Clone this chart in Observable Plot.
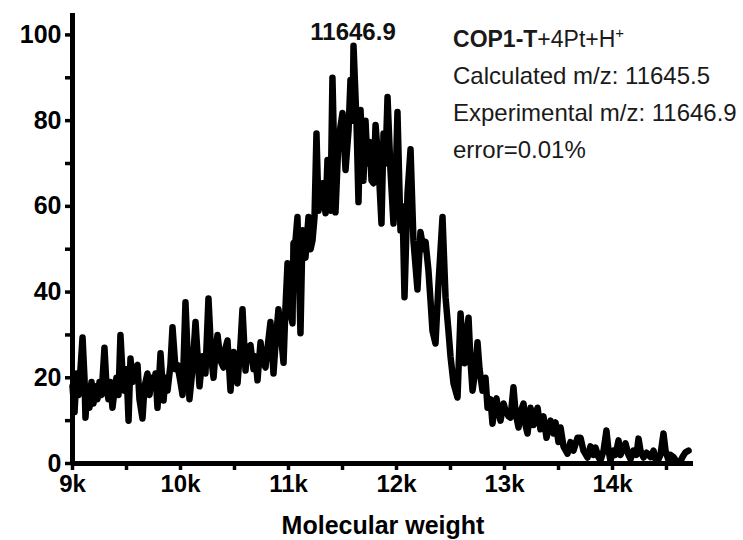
<!DOCTYPE html>
<html>
<head>
<meta charset="utf-8">
<script src="https://cdn.jsdelivr.net/npm/d3@7"></script>
<script src="https://cdn.jsdelivr.net/npm/@observablehq/plot@0.6"></script>
<style>
  html, body { margin: 0; padding: 0; background: #fff; }
  #chart { width: 743px; height: 540px; }
</style>
</head>
<body>
<div id="chart"></div>
<script>
// Molecular weight (Da)
const mass = [
  9000, 9019, 9037, 9056, 9074, 9093, 9111, 9120, 9139, 9157, 9176, 9194, 9213, 9231, 9250, 9269,
  9296, 9315, 9333, 9352, 9370, 9389, 9407, 9426, 9444, 9463, 9481, 9500, 9519, 9537, 9556, 9574,
  9602, 9620, 9648, 9667, 9694, 9713, 9731, 9750, 9769, 9787, 9815, 9843, 9861, 9880, 9907, 9926,
  9954, 9972, 10000, 10019, 10046, 10083, 10111, 10139, 10176, 10204, 10231, 10259, 10287, 10306, 10324, 10343,
  10370, 10398, 10417, 10435, 10463, 10491, 10509, 10528, 10556, 10574, 10602, 10620, 10648, 10676, 10694, 10713,
  10741, 10759, 10787, 10806, 10833, 10861, 10880, 10907, 10954, 10972, 10991, 11019, 11037, 11046, 11065, 11083,
  11111, 11130, 11157, 11185, 11204, 11222, 11241, 11259, 11278, 11296, 11315, 11343, 11361, 11389, 11407, 11435,
  11463, 11500, 11528, 11556, 11574, 11593, 11602, 11630, 11648, 11667, 11694, 11713, 11731, 11750, 11769, 11787,
  11806, 11833, 11861, 11880, 11898, 11917, 11944, 11972, 11991, 12009, 12037, 12056, 12074, 12102, 12130, 12157,
  12194, 12222, 12250, 12269, 12296, 12315, 12333, 12361, 12389, 12426, 12454, 12481, 12500, 12528, 12565, 12593,
  12611, 12630, 12648, 12667, 12685, 12704, 12731, 12750, 12769, 12796, 12824, 12843, 12870, 12889, 12907, 12926,
  12944, 12963, 12991, 13009, 13037, 13056, 13083, 13102, 13130, 13148, 13176, 13194, 13213, 13241, 13269, 13306,
  13333, 13361, 13389, 13426, 13454, 13472, 13500, 13519, 13546, 13583, 13611, 13639, 13676, 13704, 13731, 13769,
  13796, 13824, 13843, 13870, 13889, 13917, 13944, 13963, 13981, 14009, 14028, 14056, 14074, 14093, 14120, 14148,
  14167, 14194, 14222, 14241, 14259, 14287, 14315, 14352, 14380, 14398, 14417, 14444, 14472, 14491, 14519, 14537,
  14565, 14593, 14630, 14648, 14676, 14704
];
// Relative intensity (%)
const intensity = [
  18, 12, 21, 16, 22, 29.4, 20, 10.7, 18, 13, 19, 14, 18, 15, 19, 16,
  27, 18, 15, 19, 13, 17, 20, 16, 30, 21, 17, 22, 10, 24.5, 19, 22,
  23, 15, 10.5, 18, 21, 16, 20, 18, 21, 13, 25.7, 14.7, 20, 17, 23, 31.8,
  22, 23, 19, 16, 37.6, 15, 22, 33, 18, 25, 21, 38.5, 24, 20, 26, 30,
  24, 22.4, 27, 28.7, 17, 26, 21, 18.7, 28, 36, 21.7, 27, 27.6, 22, 25, 19.4,
  28.3, 24, 22.4, 27, 33, 21, 28, 36, 23.5, 36.4, 46.7, 35, 32.7, 51.4, 52, 57.5,
  30.4, 54.4, 48, 57.5, 50, 52, 57.5, 77, 59, 62, 65.4, 58.4, 70.8, 59, 90, 58.6,
  75.5, 81.8, 68.5, 77.8, 89.5, 80, 97.5, 79.4, 61, 82.5, 66, 80, 70, 75, 66, 65.4,
  79, 70, 56, 77, 70, 85.5, 68.5, 56, 65, 82, 54.4, 60, 38.8, 63, 73.3, 52,
  40.6, 54, 50, 51.7, 45, 38, 31, 28, 42, 57.5, 38.8, 31, 25, 18.7, 15.4, 35,
  28, 23.4, 30, 34, 24, 17, 22, 28.3, 22, 17, 20, 13, 15, 9.3, 13, 15.2,
  12, 10, 14, 12.4, 11, 10.7, 17.8, 12, 8.4, 12, 14, 9, 7, 13, 9, 13,
  8, 11, 6, 10, 7, 9.6, 5, 8.4, 4, 2.3, 5, 3, 6, 6, 3, 1.4,
  4, 2, 3.7, 1.5, 0.7, 3, 7.7, 3, 0.7, 3, 2, 5.4, 2, 3, 4.7, 2,
  1, 3, 2, 5.8, 3, 1.4, 2.5, 1.5, 3, 1, 0.5, 2, 7, 3, 0.7, 2,
  1.5, 0.5, 0.5, 1.5, 2.6, 3
];
const yTickValues = [0, 10, 20, 30, 40, 50, 60, 70, 80, 90, 100];
const yLabelValues = [0, 20, 40, 60, 80, 100];
const xTickValues = [9000, 9500, 10000, 10500, 11000, 11500, 12000, 12500, 13000, 13500, 14000, 14500];
const xLabelValues = [9000, 10000, 11000, 12000, 13000, 14000];
const xTitle = "Molecular weight";
const peakLabel = "11646.9";
const peakAt = [11602, 98.8];
const infoBold = "COP1-T";
const infoRest = "+4Pt+H";
const infoLines = ["Calculated m/z: 11645.5", "Experimental m/z: 11646.9", "error=0.01%"];
const infoAt = [12528, 97];

const data = mass.map((m, i) => ({mass: m, value: intensity[i]}));

const W = 743, H = 540, ML = 72, MR = 50, MT = 13, MB = 77;
const xDomain = [9000, 14750], yDomain = [0, 105];

const plot = Plot.plot({
  width: W, height: H,
  marginLeft: ML, marginRight: MR, marginTop: MT, marginBottom: MB,
  x: {domain: xDomain},
  y: {domain: yDomain},
  style: {fontFamily: "'Liberation Sans', Arial, sans-serif", background: "#fff", color: "#000", overflow: "visible"},
  marks: [
    Plot.axisY({ticks: yTickValues, tickSize: 7, strokeWidth: 3.5, tickPadding: 4,
      tickFormat: d => yLabelValues.includes(d) ? String(d) : "", label: null,
      fontSize: 25, fontWeight: "bold"}),
    Plot.axisX({ticks: xTickValues, tickSize: 7, strokeWidth: 3.5, tickPadding: 4,
      tickFormat: d => xLabelValues.includes(d) ? (d / 1000) + "k" : "", label: null,
      fontSize: 24, fontWeight: "bold"}),
    Plot.line(data, {x: "mass", y: "value", stroke: "#000", strokeWidth: 6.5, strokeLinejoin: "round", strokeLinecap: "round"}),
    Plot.ruleX([xDomain[0]], {stroke: "#000", strokeWidth: 5}),
    Plot.ruleY([0], {stroke: "#000", strokeWidth: 5}),
    Plot.text([xTitle], {frameAnchor: "bottom", dy: 70, fontSize: 25, fontWeight: "bold", fill: "#000"})
  ]
});

// annotations positioned via the same linear mapping as the plot scales
const sx = d3.scaleLinear().domain(xDomain).range([ML, W - MR]);
const sy = d3.scaleLinear().domain(yDomain).range([H - MB, MT]);
const svg = d3.select(plot);
const g = svg.append("g").attr("font-family", "'Liberation Sans', Arial, sans-serif");
g.append("text").attr("x", sx(peakAt[0])).attr("y", sy(peakAt[1]))
  .attr("text-anchor", "middle").attr("font-size", 24).attr("font-weight", "bold").attr("fill", "#111")
  .text(peakLabel);
const ix = sx(infoAt[0]), iy = sy(infoAt[1]);
const t0 = g.append("text").attr("x", ix).attr("y", iy).attr("text-anchor", "start").attr("font-size", 23).attr("fill", "#1a1a1a");
t0.append("tspan").attr("font-weight", "bold").text(infoBold);
t0.append("tspan").text(infoRest);
t0.append("tspan").attr("font-size", 15).attr("dy", -9).text("+");
infoLines.forEach((s, i) => {
  g.append("text").attr("x", ix).attr("y", iy + 37 * (i + 1)).attr("text-anchor", "start")
    .attr("font-size", 24).attr("fill", "#1a1a1a").text(s);
});

document.getElementById("chart").appendChild(plot);
</script>
</body>
</html>
